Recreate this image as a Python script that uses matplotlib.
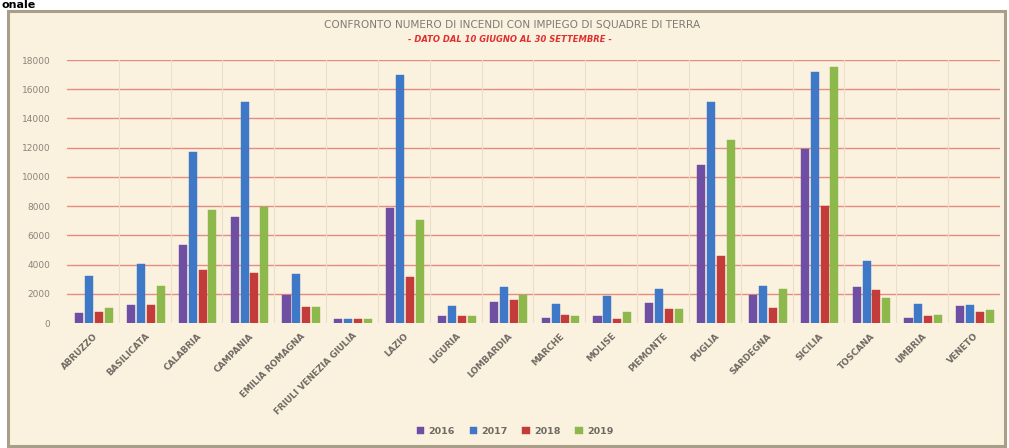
import matplotlib
matplotlib.use("Agg")
import matplotlib.pyplot as plt
import numpy as np
from matplotlib.patches import Rectangle

regions = ["ABRUZZO", "BASILICATA", "CALABRIA", "CAMPANIA", "EMILIA ROMAGNA",
           "FRIULI VENEZIA GIULIA", "LAZIO", "LIGURIA", "LOMBARDIA", "MARCHE",
           "MOLISE", "PIEMONTE", "PUGLIA", "SARDEGNA", "SICILIA", "TOSCANA",
           "UMBRIA", "VENETO"]
years = ["2016", "2017", "2018", "2019"]
v2016 = [700, 1230, 5320, 7260, 1910, 250, 7900, 480, 1450, 360, 450, 1340, 10830, 1910, 11920, 2430, 320, 1180]
v2017 = [3200, 4070, 11690, 15150, 3320, 250, 16980, 1180, 2440, 1300, 1840, 2300, 15110, 2550, 17200, 4250, 1300, 1230]
v2018 = [780, 1200, 3660, 3390, 1110, 250, 3120, 450, 1570, 520, 300, 930, 4570, 1050, 8010, 2250, 450, 770]
v2019 = [1000, 2550, 7710, 7940, 1100, 300, 7030, 450, 1910, 450, 770, 930, 12540, 2300, 17500, 1680, 520, 890]
yticks = [0, 2000, 4000, 6000, 8000, 10000, 12000, 14000, 16000, 18000]

series = [v2016, v2017, v2018, v2019]
colors = ["#6E4FA3", "#3F78C6", "#C43C3A", "#8DB84C"]

W, H = 1009, 448
fig = plt.figure(figsize=(W / 100, H / 100), dpi=100)
fig.patch.set_facecolor("white")

# outer frame (background)
frame = Rectangle((8 / W, 2 / H), 997 / W, 435 / H, transform=fig.transFigure,
                  facecolor="#FBF1DF", edgecolor="#A99F88", linewidth=2.2, zorder=-10)
fig.patches.append(frame)

# heading fragment at top-left
fig.text(1 / W, 1 - 0.5 / H, "onale", fontsize=8, fontweight="bold", color="black",
         ha="left", va="top")

ax = fig.add_axes([67 / W, 125 / H, 933 / W, 263 / H])
ax.set_zorder(2)
ax.set_facecolor("none")

x = np.arange(len(regions))
bw = 0.155
step = 0.19
for i, (vals, c) in enumerate(zip(series, colors)):
    ax.bar(x + (i - 1.5) * step + 0.02, vals, width=bw, color=c, label=years[i], zorder=3,
           edgecolor=c, linewidth=0.3)

ax.set_xlim(-0.5, len(regions) - 0.5)
ax.set_ylim(0, 18000)
ax.set_yticks(yticks)
ax.set_yticklabels([str(t) for t in yticks])
ax.tick_params(axis="y", length=0, pad=12, labelsize=6.5, labelcolor="#8A8478")
ax.set_xticks(x)
ax.set_xticklabels(regions, rotation=45, ha="right", rotation_mode="anchor",
                   fontsize=6.3, fontweight="bold", color="#6F6A62")
ax.tick_params(axis="x", length=0, pad=6)

for yv in yticks[1:]:
    ax.axhline(yv, color="#E58C80", linewidth=1.0, zorder=1)
for xv in np.arange(0.5, len(regions) - 0.5, 1):
    ax.axvline(xv, color="#EADFC9", linewidth=0.8, zorder=1)
for s in ax.spines.values():
    s.set_visible(False)

fig.text(512 / W, 1 - 25 / H, "CONFRONTO NUMERO DI INCENDI CON IMPIEGO DI SQUADRE DI TERRA",
         ha="center", va="center", fontsize=7.6, color="#7F7B74")
fig.text(510 / W, 1 - 40 / H, "- DATO DAL 10 GIUGNO AL 30 SETTEMBRE -",
         ha="center", va="center", fontsize=6, color="#E0302E",
         fontweight="bold", fontstyle="italic")

leg = fig.legend(loc="center", bbox_to_anchor=(515 / W, 1 - 431 / H), ncol=4,
                 frameon=False, handlelength=0.8, handleheight=0.8,
                 handletextpad=0.4, columnspacing=1.6, prop={"weight": "bold", "size": 6.8})
for t in leg.get_texts():
    t.set_color("#6F6A62")

fig.savefig("out.png", dpi=100, facecolor=fig.get_facecolor())
